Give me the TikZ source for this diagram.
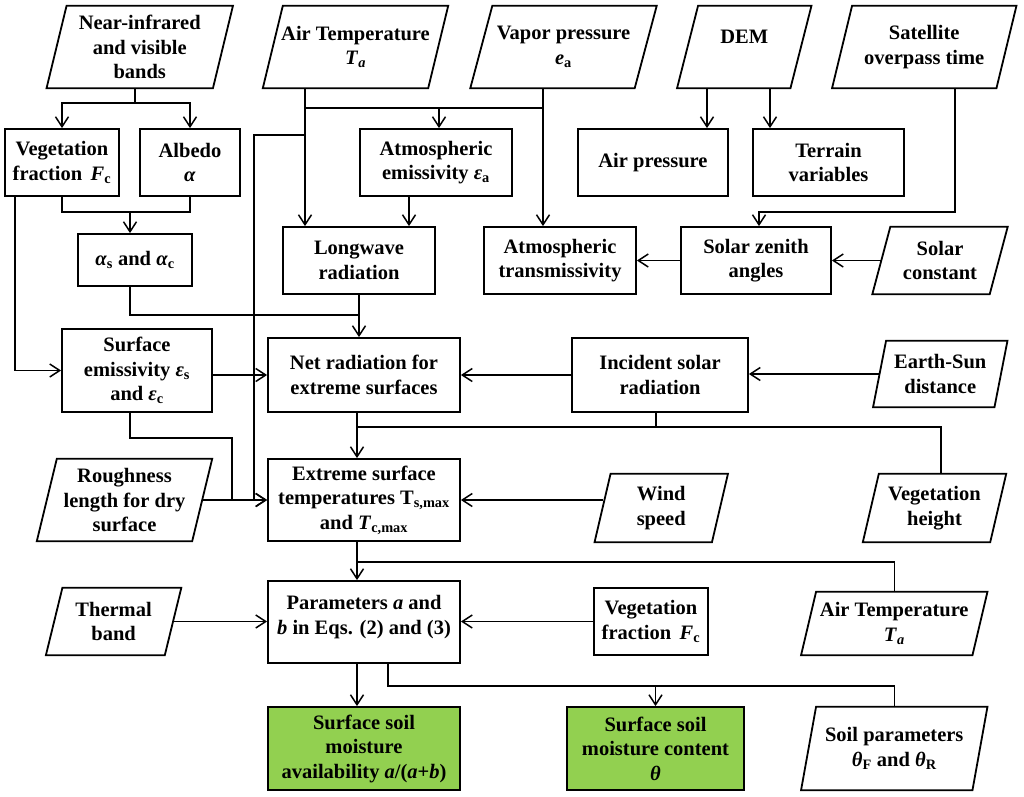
\documentclass[tikz,border=0pt]{standalone}
\usepackage{fontspec}
\setmainfont{Liberation Serif}
\usetikzlibrary{arrows.meta,calc}
\newcommand{\txtfont}{\fontsize{20.5}{24.5}\selectfont\bfseries}
\newcommand{\ti}[1]{\textit{#1}}
\tikzset{
  boxline/.style={line width=1.8pt, line join=miter},
  box/.style={draw, boxline, inner sep=0pt, align=center, font=\txtfont},
  greenbox/.style={box, fill=soilgreen},
  ptext/.style={inner sep=0pt, align=center, font=\txtfont},
  conn/.style={line width=1.5pt},
  arr/.style={conn, -{Straight Barb[length=10pt,width=13pt]}},
}
\definecolor{soilgreen}{HTML}{92D050}
% parallelogram: name, cx, cy, width, height, half slant, text
\newcommand{\pgm}[7]{%
  \node[ptext, minimum width=#4pt, minimum height=#5pt] (#1) at (#2,#3) {#7};
  \draw[boxline] ([xshift=#6pt]#1.north west) -- ([xshift=#6pt]#1.north east)
     -- ([xshift=-#6pt]#1.south east) -- ([xshift=-#6pt]#1.south west) -- cycle;
}
% rectangle: name, cx, cy, width, height, text
\newcommand{\rbox}[6]{%
  \node[box, minimum width=#4pt, minimum height=#5pt] (#1) at (#2,#3) {#6};
}
\begin{document}
\begin{tikzpicture}[x=1pt,y=-1pt]
\useasboundingbox (0,0) rectangle (1024,796);
% inputs (parallelograms)
\pgm{nir}{139.75}{47}{166}{82}{10}{Near-infrared\\and visible\\bands}
\pgm{ta}{355.5}{47}{165}{82}{10}{Air Temperature\\\ti{T}\textsubscript{\ti{a}}}
\pgm{ea}{563.5}{47}{164}{82}{11}{Vapor pressure\\\ti{e}\textsubscript{a}}
\pgm{dem}{744.25}{47}{113}{82}{10.5}{DEM\\[-5pt]\mbox{}}
\pgm{sat}{924.25}{47}{164}{82}{10}{Satellite\\overpass time}
\pgm{solc}{940}{260.5}{117}{67}{9}{Solar\\constant}
\pgm{esd}{940.25}{374}{121}{66}{6.5}{Earth-Sun\\distance}
\pgm{rough}{124.5}{500}{155}{82}{10}{Roughness\\length for dry\\surface}
\pgm{wind}{661.25}{508}{117}{68}{8}{Wind\\speed}
\pgm{vegh}{934.5}{508}{127}{68}{8}{Vegetation\\height}
\pgm{therm}{113.6}{621.5}{118.5}{67}{8.25}{Thermal\\band}
\pgm{ta2}{894.25}{623.5}{171}{63}{7.5}{Air Temperature\\\ti{T}\textsubscript{\ti{a}}}
\pgm{soil}{894.25}{748.5}{171}{83}{7.5}{Soil parameters\\\ti{θ}\textsubscript{F} and \ti{θ}\textsubscript{R}}
% process boxes
\rbox{vf}{62}{162.5}{114}{67}{Vegetation\\fraction\, \ti{F}\textsubscript{c}}
\rbox{alb}{190}{162.5}{100}{67}{Albedo\\\ti{α}}
\rbox{atme}{436}{162.5}{152}{67}{Atmospheric\\emissivity \ti{ε}\textsubscript{a}}
\rbox{airp}{653}{162.5}{150}{67}{Air pressure}
\rbox{terr}{828.5}{162.5}{151}{67}{Terrain\\variables}
\rbox{asac}{135}{260}{114}{52}{\ti{α}\textsubscript{s} and \ti{α}\textsubscript{c}}
\rbox{lw}{359}{260.5}{152}{67}{Longwave\\radiation}
\rbox{atmt}{560}{260.5}{152}{67}{Atmospheric\\transmissivity}
\rbox{sza}{756}{260.5}{150}{67}{Solar zenith\\angles}
\rbox{semi}{137}{370.5}{150}{83}{Surface\\emissivity \ti{ε}\textsubscript{s}\\and \ti{ε}\textsubscript{c}}
\rbox{netr}{364}{375}{192}{74}{Net radiation for\\extreme surfaces}
\rbox{isr}{660}{375}{176}{74}{Incident solar\\radiation}
\rbox{est}{364}{500}{192}{82}{Extreme surface\\temperatures T\textsubscript{s,max}\\and \ti{T}\textsubscript{c,max}}
\rbox{par}{364}{622}{192}{82}{Parameters \ti{a} and\\\ti{b} in Eqs. (2) and (3)\\[-10pt]\mbox{}}
\rbox{vf2}{651}{621.5}{114}{67}{Vegetation\\fraction\, \ti{F}\textsubscript{c}}
\node[greenbox, minimum width=192pt, minimum height=83pt] (ssma) at (364,748.5)
  {Surface soil\\moisture\\availability \ti{a}/(\ti{a}+\ti{b})};
\node[greenbox, minimum width=177pt, minimum height=83pt] (ssmc) at (655.5,748.5)
  {Surface soil\\moisture content\\\ti{θ}};
% connectors
\coordinate (r1) at (135,103);
\draw[arr] ($(nir.south)+(-4.75,0)$) -- (r1) -| (vf.north);
\draw[arr] (r1) -| (alb.north);
\coordinate (r2) at (130,212);
\draw[conn] (vf.south) |- (r2) -| (alb.south);
\draw[arr] (r2) -- (r2 |- asac.north);
\draw[arr] ($(vf.south west)+(11,0)$) |- (semi.west);
\coordinate (ja) at (305,108);
\coordinate (jb) at (543,108);
\coordinate (jc) at (305,135);
\draw[arr] (ta.south -| ja) -- (lw.north -| ja);
\draw[conn] (ja) -- (jb);
\draw[arr] (ea.south -| jb) -- (atmt.north -| jb);
\coordinate (xe) at (439,108);
\draw[arr] (xe) -- (atme.north -| xe);
\coordinate (xl) at (254,135);
\draw[arr] (jc) -- (xl) |- (est.west);
\coordinate (xf) at (409,0);
\draw[arr] (atme.south -| xf) -- (lw.north -| xf);
\draw[arr] (lw.south) -- (lw.south |- netr.north);
\draw[conn] ($(asac.south)+(-5,0)$) |- ($(lw.south)+(0,20)$);
\coordinate (xd1) at (707,0);
\coordinate (xd2) at (770,0);
\draw[arr] (dem.south -| xd1) -- (airp.north -| xd1);
\draw[arr] (dem.south -| xd2) -- (terr.north -| xd2);
\coordinate (js) at (955,212);
\draw[arr] (sat.south -| js) -- (js) -| ($(sza.north)+(3,0)$);
\draw[arr] (solc.west) -- (solc.west -| sza.east);
\draw[arr] (sza.west) -- (sza.west -| atmt.east);
\draw[arr] (semi.east |- netr.west) -- (netr.west);
\draw[arr] (isr.west) -- (netr.east);
\draw[arr] (esd.west) -- (esd.west -| isr.east);
\coordinate (jr) at (357,427);
\coordinate (xv) at (941,427);
\coordinate (xi) at (656,427);
\draw[arr] (netr.south -| jr) -- (est.north -| jr);
\draw[conn] (jr) -- (xv) -- (xv |- vegh.north);
\draw[conn] (isr.south -| xi) -- (xi);
\coordinate (js1) at (130,438);
\coordinate (js2) at (232,438);
\draw[conn] (semi.south -| js1) -- (js1) -- (js2) -- (js2 |- est.west);
\draw[arr] (rough.east) -- (est.west);
\draw[arr] (wind.west |- est.east) -- (est.east);
\coordinate (jt) at (357,562);
\draw[arr] (est.south -| jt) -- (par.north -| jt);
\draw[conn] (jt) -| (ta2.north);
\draw[arr] (therm.east) -- (therm.east -| par.west);
\draw[arr] (vf2.west) -- (vf2.west -| par.east);
\draw[arr] (par.south -| jt) -- (ssma.north -| jt);
\coordinate (jp) at (388,686);
\draw[conn] (par.south -| jp) -- (jp) -| (soil.north);
\draw[arr] (jp -| ssmc.north) -- (ssmc.north);
\end{tikzpicture}
\end{document}
